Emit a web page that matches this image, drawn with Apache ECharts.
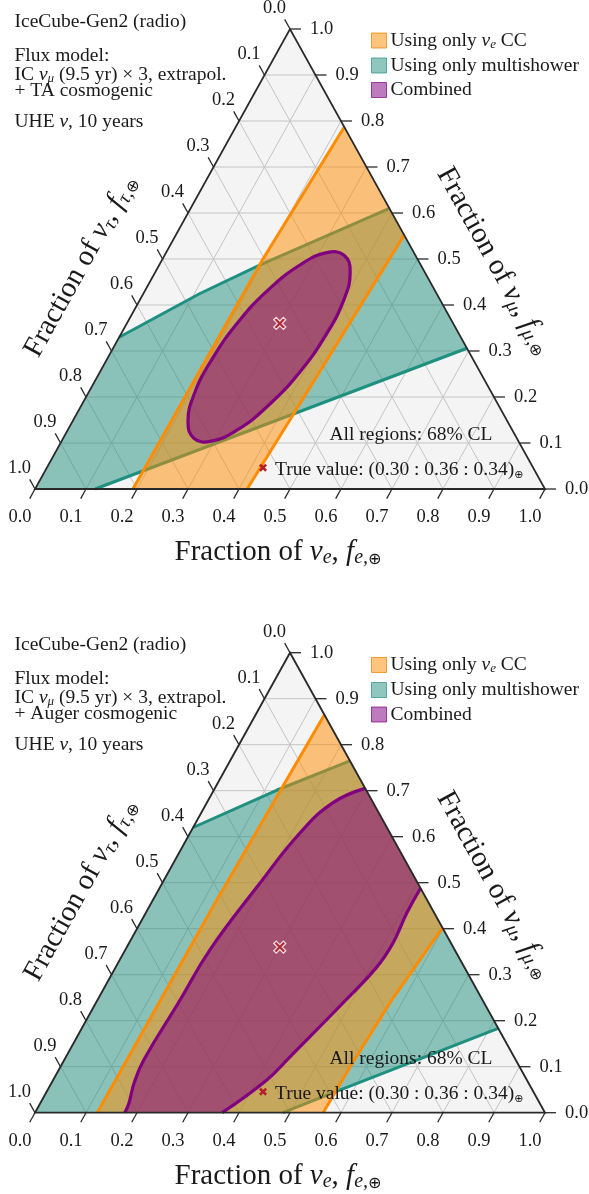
<!DOCTYPE html>
<html><head><meta charset="utf-8">
<script src="https://cdn.jsdelivr.net/npm/echarts@6/dist/echarts.min.js"></script>
<style>html,body{margin:0;padding:0;background:#fff}#c{width:589px;height:1194px}</style>
</head><body><div id="c"></div>
<script>
// ---------- data (ternary points given as [f_e, f_mu]; f_tau = 1 - f_e - f_mu) ----------
const ticks = [0, 0.1, 0.2, 0.3, 0.4, 0.5, 0.6, 0.7, 0.8, 0.9, 1.0];
const tickLabels = ['0.0','0.1','0.2','0.3','0.4','0.5','0.6','0.7','0.8','0.9','1.0'];
const vertices = [[0, 0], [1, 0], [0, 1]];
const trueValue = [0.30, 0.36, 0.34];
const fluxModels = ['TA', 'Auger'];

// Plot 1: TA cosmogenic
const ta_nueCC_left  = [[0.192, 0], [0.197, 0.50], [0.213, 0.787]];
const ta_nueCC_right = [[0.448, 0.552], [0.416, 0]];
const ta_multi_upper = [[0, 0.33], [0.111, 0.425], [0.198, 0.487], [0.39, 0.61]];
const ta_multi_lower = [[0.694, 0.306], [0.118, 0]];
const ta_combined = [[0.352,0.508],[0.382,0.472],[0.400,0.411],[0.403,0.335],[0.392,0.254],[0.367,0.182],
  [0.333,0.129],[0.294,0.104],[0.257,0.110],[0.227,0.146],[0.209,0.206],[0.206,0.283],
  [0.217,0.363],[0.242,0.435],[0.277,0.488],[0.315,0.514]];

// Plot 2: Auger cosmogenic
const au_nueCC_left  = [[0.122, 0], [0.125, 0.45], [0.135, 0.865]];
const au_nueCC_right = [[0.598, 0.402], [0.577, 0.245], [0.568, 0.1], [0.565, 0]];
const au_multi_upper = [[0, 0.62], [0.124, 0.7015], [0.235, 0.765]];
const au_multi_lower = [[0.8165, 0.1835], [0.573, 0.049], [0.486, 0]];
const au_comb_left  = [[0.176,0],[0.174,0.02],[0.162,0.065],[0.156,0.115],[0.162,0.245],[0.166,0.354],
  [0.190,0.491],[0.2155,0.608],[0.2475,0.674],[0.295,0.705]];
const au_comb_right = [[0.512,0.488],[0.512,0.434],[0.5175,0.369],[0.512,0.317],[0.487,0.245],[0.439,0.121],
  [0.419,0.071],[0.367,0]];

// ---------- styling ----------
const FONT = '"Liberation Serif", "DejaVu Serif", serif';
const TXT = '#1a1a1a';
const C_OR = '#ff8c00', C_TE = '#1f9080', C_PU = '#800080';
const F_OR = 'rgba(255,140,0,0.5)', F_TE = 'rgba(31,144,128,0.5)', F_PU = 'rgba(128,0,128,0.52)';

function toXY(p) { return [p[0] + 0.5 * p[1], p[1]]; }
const R61 = Math.atan2(460, 255);

function custom(gi, z, data, renderItem, name, color) {
  const s = {type:'custom', coordinateSystem:'cartesian2d', xAxisIndex:gi, yAxisIndex:gi,
    data: data, z: z, silent: true, clip: false, animation: false, renderItem: renderItem};
  if (name) { s.name = name; s.itemStyle = {color: color}; }
  return s;
}
function polyFill(gi, z, pts, fill, name, smooth) {
  return custom(gi, z, [[0,0]], (p, api) => ({type:'polygon',
    shape:{points: pts.map(q => api.coord(toXY(q))), smooth: smooth || 0},
    style:{fill: fill, stroke: null}}), name, fill);
}
function polyLines(gi, z, lines, stroke, w, closed, smooth) {
  return custom(gi, z, [[0,0]], (p, api) => ({type:'group', children: lines.map(l => ({
    type: closed ? 'polygon' : 'polyline',
    shape:{points: l.map(q => api.coord(toXY(q))), smooth: smooth || 0},
    style:{fill: null, stroke: stroke, lineWidth: w, lineJoin:'round', lineCap:'butt'}}))}));
}
function frame(gi) {
  const seg = (api, a, b, st) => { const A = api.coord(toXY(a)), B = api.coord(toXY(b));
    return {type:'line', shape:{x1:A[0], y1:A[1], x2:B[0], y2:B[1]}, style: st}; };
  const lbl = (x, y, t, al) => ({type:'text', x: x, y: y, style:{text: t, font: '18.5px ' + FONT, fill: TXT,
    align: al, textAlign: al, verticalAlign:'middle', textVerticalAlign:'middle'}});
  return [
    custom(gi, 1, [[0,0]], (p, api) => ({type:'polygon', shape:{points: vertices.map(q => api.coord(toXY(q)))},
      style:{fill:'#f4f4f4'}})),
    custom(gi, 2, ticks.map(t => [t, 0]), (p, api) => {
      const t = api.value(0);
      if (t <= 0.001 || t >= 0.999) return {type:'group', children:[]};
      const st = {stroke:'#c4c4c4', lineWidth:1};
      return {type:'group', children:[seg(api,[t,0],[t,1-t],st), seg(api,[0,t],[1-t,t],st), seg(api,[1-t,0],[0,1-t],st)]};
    }),
    custom(gi, 20, [[0,0]], (p, api) => ({type:'polygon', shape:{points: vertices.map(q => api.coord(toXY(q)))},
      style:{fill:null, stroke:'#2a2a2a', lineWidth:1.8}})),
    custom(gi, 21, ticks.map(t => [t, 0]), (p, api) => {
      const t = api.value(0), lab = tickLabels[p.dataIndex];
      const st = {stroke:'#2a2a2a', lineWidth:1.3};
      const B = api.coord(toXY([t, 0])), Rr = api.coord(toXY([1 - t, t])), L = api.coord(toXY([0, 1 - t]));
      return {type:'group', children:[
        {type:'line', shape:{x1:B[0], y1:B[1], x2:B[0]-5.3, y2:B[1]+9.6}, style: st},
        {type:'line', shape:{x1:Rr[0], y1:Rr[1], x2:Rr[0]+11, y2:Rr[1]}, style: st},
        {type:'line', shape:{x1:L[0], y1:L[1], x2:L[0]-5.3, y2:L[1]-9.6}, style: st},
        lbl(B[0]-15, B[1]+28.5, lab, 'center'),
        lbl(Rr[0]+20, Rr[1], lab, 'left'),
        lbl(L[0]-15.5, L[1]-21, lab, 'center')
      ]};
    })
  ];
}

function plotSeries(gi, d) {
  return [].concat(frame(gi), [
    polyFill(gi, 3, d.multiUpper.concat(d.multiLower, [vertices[0]]), F_TE, 'multi'),
    polyLines(gi, 4, [d.multiUpper, d.multiLower], C_TE, 3),
    polyFill(gi, 5, d.nueLeft.concat(d.nueRight), F_OR, 'nuecc'),
    polyLines(gi, 6, [d.nueLeft, d.nueRight], C_OR, 3),
    polyFill(gi, 7, d.combFill, F_PU, 'comb', 0.45),
    polyLines(gi, 8, d.combLines, C_PU, 3.2, d.combClosed, 0.45),
    {type:'scatter', xAxisIndex: gi, yAxisIndex: gi, z: 22, silent: true, animation: false,
      data: [toXY(trueValue)],
      symbol:'path://M0,2 L2,0 L5,3 L8,0 L10,2 L7,5 L10,8 L8,10 L5,7 L2,10 L0,8 L3,5 Z', symbolSize: 12,
      itemStyle:{color:'#b3202a', borderColor:'#fff', borderWidth:1.3}}
  ]);
}

// guard points keep the triangle-edge parts of the smoothed Auger region straight
const lastL = au_comb_left[au_comb_left.length - 1], firstR = au_comb_right[0];
const lastR = au_comb_right[au_comb_right.length - 1], firstL = au_comb_left[0];
const near = (a, b) => [a[0] + (b[0] - a[0]) * 0.02, a[1] + (b[1] - a[1]) * 0.02];
const au_comb_fill = au_comb_left.concat([near(lastL, firstR), near(firstR, lastL)], au_comb_right,
  [near(lastR, firstL), near(firstL, lastR)]);

const series = [].concat(
  plotSeries(0, {nueLeft: ta_nueCC_left, nueRight: ta_nueCC_right, multiUpper: ta_multi_upper,
    multiLower: ta_multi_lower, combFill: ta_combined, combLines: [ta_combined], combClosed: true}),
  plotSeries(1, {nueLeft: au_nueCC_left, nueRight: au_nueCC_right, multiUpper: au_multi_upper,
    multiLower: au_multi_lower, combFill: au_comb_fill, combClosed: false,
    combLines: [au_comb_left, au_comb_right]})
);

// ---------- texts ----------
function rich(base) {
  return {
    n: {fontFamily: FONT, fontSize: base, fill: TXT, color: TXT},
    i: {fontFamily: FONT, fontSize: base, fontStyle: 'italic', fill: TXT, color: TXT},
    s: {fontFamily: FONT, fontSize: Math.round(base*0.68), fontStyle: 'italic', fill: TXT, color: TXT, padding: [Math.round(base*0.42),0,0,0]},
    o: {fontFamily: '"DejaVu Sans"', fontSize: Math.round(base*0.55), fill: TXT, color: TXT, padding: [Math.round(base*0.5),0,0,0]}
  };
}
function txt(x, y, text, size, align, rot) {
  return {type:'text', x: x, y: y, rotation: rot || 0, silent: true, z: 30,
    style:{text: text, rich: rich(size), font: size + 'px ' + FONT, fill: TXT,
      align: align, textAlign: align, verticalAlign:'middle', textVerticalAlign:'middle'}};
}
const tv = trueValue.map(v => v.toFixed(2)).join(' : ');
const graphics = [];
[0, 624].forEach((dy, k) => {
  const lines = [
    ['{n|IceCube-Gen2 (radio)}', 22],
    ['{n|Flux model:}', 56],
    ['{n|IC }{i|ν}{s|μ}{n| (9.5 yr) × 3, extrapol.}', 75],
    ['{n|+ ' + fluxModels[k] + ' cosmogenic}', 91],
    ['{n|UHE }{i|ν}{n|, 10 years}', 122]
  ];
  lines.forEach(l => graphics.push(txt(14.5, l[1] + dy - (k ? 1 : 0), l[0], 19.5, 'left')));
  graphics.push(txt(411, 435 + dy, '{n|All regions: 68% CL}', 19.5, 'center'));
  graphics.push({type:'text', x: 263, y: 469 + dy, z: 30, silent: true,
    style:{text:'✖', font:'12px "DejaVu Sans"', fill:'#b3202a', align:'center', textAlign:'center', verticalAlign:'middle', textVerticalAlign:'middle'}});
  graphics.push(txt(275, 470 + dy, '{n|True value: (' + tv + ')}{o|⊕}', 19.5, 'left'));
  graphics.push(txt(278, 552 + dy, '{n|Fraction of }{i|ν}{s|e}{n|, }{i|f}{s|e,}{o|⊕}', 29, 'center'));
  graphics.push(txt(81, 266 + dy, '{n|Fraction of }{i|ν}{s|τ}{n|, }{i|f}{s|τ,}{o|⊕}', 29, 'center', R61));
  graphics.push(txt(494, 261 + dy, '{n|Fraction of }{i|ν}{s|μ}{n|, }{i|f}{s|μ,}{o|⊕}', 29, 'center', -R61));
});

const legendLabels = {
  nuecc: '{n|Using only }{i|ν}{s|e}{n| CC}',
  multi: '{n|Using only multishower}',
  comb: '{n|Combined}'
};
const legendItems = [
  {name:'nuecc', icon:'rect', itemStyle:{color: F_OR, borderColor:'rgba(240,130,0,0.75)', borderWidth:1}},
  {name:'multi', icon:'rect', itemStyle:{color: F_TE, borderColor:'rgba(31,144,128,0.7)', borderWidth:1}},
  {name:'comb', icon:'rect', itemStyle:{color: F_PU, borderColor:'rgba(128,0,128,0.7)', borderWidth:1}}
];
const lrich = {
  n: {fontFamily: FONT, fontSize: 19.5, color: TXT, lineHeight: 20},
  i: {fontFamily: FONT, fontSize: 19.5, fontStyle:'italic', color: TXT, lineHeight: 20},
  s: {fontFamily: FONT, fontSize: 13, fontStyle:'italic', color: TXT, lineHeight: 12, padding:[8,0,0,0]}
};
function legend(top) {
  return {orient:'vertical', left: 371, top: top, padding: 0, itemGap: 4.5, itemWidth: 15, itemHeight: 15,
    selectedMode: false, data: legendItems, formatter: n => legendLabels[n],
    textStyle: {fontFamily: FONT, fontSize: 19.5, color: TXT, rich: lrich, padding:[0,0,0,-1]}};
}

const chart = echarts.init(document.getElementById('c'), null, {renderer:'canvas'});
chart.setOption({
  animation: false,
  backgroundColor: '#ffffff',
  grid: [{left:35, top:29, width:510, height:460}, {left:35, top:652.7, width:510, height:460}],
  xAxis: [{gridIndex:0, type:'value', min:0, max:1, show:false}, {gridIndex:1, type:'value', min:0, max:1, show:false}],
  yAxis: [{gridIndex:0, type:'value', min:0, max:1, show:false}, {gridIndex:1, type:'value', min:0, max:1, show:false}],
  legend: [legend(30), legend(654.5)],
  graphic: graphics,
  series: series
});
</script>
</body></html>
